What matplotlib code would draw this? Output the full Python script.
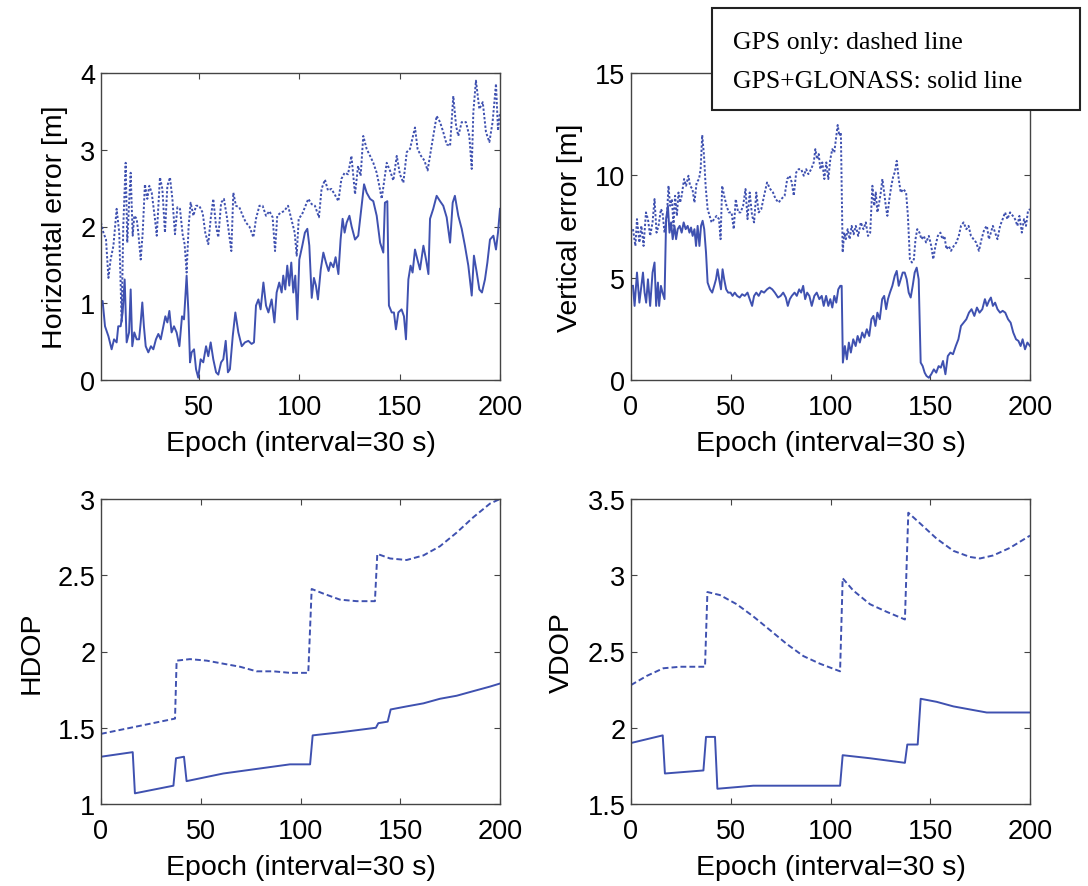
import matplotlib
matplotlib.use("Agg")
import matplotlib.pyplot as plt
from matplotlib.patches import Rectangle

BLUE = "#3f51b0"

# ---- horizontal error [m] ----
gps_h_ep = [
    1, 2.2, 3.5, 4.7, 5.8, 7.2, 8.8, 10.1, 11.3, 12.1,
    13.3, 14.1, 15.1, 15.8, 16.8, 17.6, 18.8, 19.6, 20.8, 21.8,
    22.9, 24.1, 25.1, 26.3, 27.9, 28.8, 30.4, 31.6, 32.9, 34.1,
    35.4, 36.6, 37.9, 39.1, 40.4, 41.7, 42.7, 43.7, 44.7, 45.7,
    47.1, 48.4, 50, 51.7, 53, 54.5, 55.7, 57, 58.4, 59.5,
    60.9, 62.3, 63.7, 65, 66, 67, 68.3, 70, 71.7, 73.3,
    75, 77, 78.3, 80, 81.6, 83.3, 85, 86.6, 87.8, 88.9,
    90.6, 92.3, 94.3, 95.9, 97.6, 98.6, 99.6, 101.3, 102.7, 104.4,
    106.1, 107.7, 109.7, 111, 112.7, 114.2, 115.9, 117.5, 119.4, 120.9,
    122.5, 124.2, 125.9, 127.7, 129.2, 130.5, 131.8, 133.5, 135.2, 136.8,
    138.5, 139.8, 141, 142.1, 143.5, 145.1, 146.8, 148.5, 150.1, 151.8,
    153.5, 155.1, 157.6, 158.9, 160.6, 162.3, 163.9, 165.9, 168.4, 170.1,
    171.7, 173.4, 175.1, 176.7, 178.1, 179.2, 180.9, 183, 184.7, 185.9,
    186.7, 188, 189.7, 191.4, 193, 194.7, 196.3, 198, 199, 200,
]
gps_h = [
    2.05, 1.92, 1.83, 1.33, 1.57, 1.75, 2.23, 1.92, 0.75, 2.0,
    2.83, 1.79, 2.36, 2.7, 1.88, 2.14, 2.1, 1.92, 1.57, 1.92,
    2.55, 2.36, 2.53, 2.44, 2.1, 1.88, 2.64, 2.49, 1.92, 2.53,
    2.64, 2.36, 1.9, 2.25, 2.23, 1.9, 1.77, 1.4, 2.0, 2.31,
    2.14, 2.27, 2.27, 2.18, 1.92, 1.77, 2.1, 2.36, 2.0, 1.86,
    2.31, 2.36, 2.14, 1.88, 1.68, 2.44, 2.27, 2.25, 2.14, 2.05,
    2.0, 1.86, 2.1, 2.27, 2.27, 2.14, 2.2, 2.12, 1.68, 2.14,
    2.18, 2.2, 2.27, 2.1, 1.92, 1.62, 2.1, 2.16, 2.25, 2.36,
    2.29, 2.27, 2.12, 2.49, 2.61, 2.47, 2.49, 2.42, 2.33, 2.62,
    2.7, 2.68, 2.92, 2.42, 2.79, 2.66, 3.18, 3.01, 2.92, 2.83,
    2.7, 2.53, 2.36, 2.57, 2.83, 2.73, 2.6, 2.92, 2.68, 2.57,
    2.97, 3.01, 3.29, 3.01, 2.92, 2.86, 2.73, 3.05, 3.44, 3.36,
    3.23, 3.07, 3.05, 3.7, 3.31, 3.18, 3.36, 3.36, 3.18, 2.75,
    3.49, 3.9, 3.53, 3.62, 3.23, 3.1, 3.36, 3.86, 3.25, 3.49,
]
glo_h_ep = [
    1, 1.8, 3, 4.7, 6.3, 7.5, 8.8, 9.6, 10.8, 11.8,
    12.8, 13.8, 15, 15.8, 16.6, 17.6, 18.8, 20, 20.8, 21.6,
    22.4, 23.3, 24.6, 25.9, 27.1, 28.4, 29.6, 30.8, 32.1, 33.1,
    34.1, 35.1, 36.2, 37.4, 38.7, 40.1, 41.4, 42.4, 43.7, 44.6,
    45.4, 46.2, 47.4, 48.4, 49.5, 50.7, 52, 53.4, 54.5, 55.7,
    57, 58.4, 59.5, 60.9, 62, 63.2, 64.3, 65.3, 66.7, 68,
    69.5, 71.2, 72.8, 74.5, 76.1, 77.3, 78.3, 79.5, 80.6, 82,
    83.3, 84.5, 86.1, 87.5, 88.6, 89.9, 91.1, 91.9, 92.9, 93.9,
    94.9, 95.9, 96.9, 97.9, 98.9, 99.9, 101.4, 102.7, 103.9, 104.9,
    106.1, 107.2, 108.2, 109.2, 110.6, 111.9, 113.2, 114.5, 115.5, 116.9,
    118, 119.4, 120.5, 121.5, 122.5, 123.5, 124.9, 126, 127.7, 129.3,
    131, 132.2, 133.5, 135.2, 136.8, 138.5, 140.2, 141.8, 142.6, 143.8,
    144.6, 146, 147.1, 148.1, 149.3, 150.9, 152.1, 153.1, 154.3, 155.4,
    156.4, 157.6, 158.8, 160.1, 161.8, 163.1, 164.3, 165.1, 166.7, 168.4,
    170.1, 171.7, 173.4, 175.1, 176.4, 177.5, 179.2, 180.9, 182.5, 184.2,
    185.9, 187, 188.4, 189.7, 191, 192.5, 193.7, 195, 196.7, 198,
    199, 200,
]
glo_h = [
    0.97, 1.03, 0.7, 0.57, 0.4, 0.53, 0.49, 0.7, 0.7, 0.88,
    1.31, 0.49, 0.62, 1.18, 0.44, 0.62, 0.53, 0.53, 0.75, 1.01,
    0.7, 0.44, 0.36, 0.44, 0.4, 0.53, 0.6, 0.53, 0.7, 0.83,
    0.75, 0.9, 0.62, 0.7, 0.62, 0.44, 0.83, 0.79, 1.36, 0.88,
    0.23, 0.36, 0.4, 0.14, 0.03, 0.27, 0.23, 0.44, 0.31, 0.49,
    0.27, 0.1, 0.07, 0.23, 0.27, 0.51, 0.1, 0.14, 0.57, 0.88,
    0.62, 0.44, 0.49, 0.51, 0.47, 0.49, 0.97, 1.05, 0.92, 1.27,
    0.97, 0.88, 1.05, 0.75, 1.14, 1.27, 1.14, 1.36, 1.18, 1.49,
    1.23, 1.53, 1.14, 1.36, 0.79, 1.57, 1.75, 1.92, 1.97, 1.75,
    1.07, 1.33, 1.23, 1.05, 1.44, 1.66, 1.53, 1.42, 1.53, 1.47,
    1.6, 1.38, 1.83, 2.1, 1.92, 2.05, 2.14, 2.0, 1.83, 1.88,
    2.27, 2.55, 2.44, 2.36, 2.33, 2.14, 1.79, 1.66, 2.31, 2.33,
    0.97, 0.88, 0.88, 0.66, 0.88, 0.92, 0.83, 0.53, 1.31, 1.49,
    1.4, 1.7, 1.57, 1.44, 1.75, 1.57, 1.38, 2.1, 2.23, 2.4,
    2.33, 2.27, 2.12, 1.79, 2.31, 2.4, 2.14, 1.97, 1.75, 1.49,
    1.1, 1.62, 1.4, 1.18, 1.14, 1.31, 1.53, 1.83, 1.88, 1.7,
    1.92, 2.23,
]

# ---- vertical error [m] ----
gps_v_ep = [
    1, 2.2, 3, 4.2, 5.2, 6.3, 7.5, 8.5, 9.6, 10.8,
    11.8, 12.8, 13.8, 15, 15.8, 16.8, 18, 18.8, 19.6, 20.5,
    21.3, 22.1, 23, 23.8, 24.6, 25.4, 26.6, 27.6, 28.8, 29.6,
    30.8, 31.8, 32.9, 34.1, 34.9, 35.7, 36.6, 37.4, 38.4, 39.4,
    40.4, 41.7, 42.9, 44.1, 44.9, 45.7, 46.7, 47.9, 49, 50.4,
    51.5, 52.5, 53.7, 54.9, 56.2, 57.4, 58.4, 59.5, 60.7, 61.7,
    62.8, 64, 65.3, 66.7, 68.2, 69.8, 71.2, 72.5, 74, 75.3,
    77, 78.3, 79.5, 80.6, 81.6, 82.8, 84, 85.3, 86.6, 87.8,
    88.9, 90.3, 91.6, 92.4, 93.3, 94.1, 94.9, 95.9, 96.9, 97.9,
    98.9, 99.9, 100.9, 101.9, 102.7, 103.6, 104.4, 105.2, 106.1, 106.9,
    107.7, 108.6, 109.6, 110.6, 111.6, 112.7, 113.9, 115.2, 116.5, 117.7,
    118.8, 119.9, 121, 121.9, 122.7, 123.5, 124.4, 125.2, 126, 126.9,
    127.7, 128.5, 129.5, 130.5, 131.5, 132.2, 133.2, 134.2, 135.2, 136.5,
    137.9, 138.8, 139.8, 140.8, 141.8, 142.6, 143.5, 144.6, 145.6, 146.8,
    147.9, 149.3, 150.5, 151.5, 152.6, 153.8, 155.1, 156.1, 157.1, 158.1,
    159.3, 160.4, 161.8, 163.1, 164.3, 165.4, 166.7, 168.1, 169.2, 170.4,
    171.7, 173, 174.4, 175.7, 177.1, 178.4, 179.4, 180.4, 181.4, 182.5,
    183.7, 185, 186.3, 187.5, 188.7, 190, 191.4, 192.5, 193.7, 194.7,
    195.9, 197, 198, 199, 200,
]
gps_v = [
    7.37, 6.55, 7.86, 6.72, 7.53, 6.55, 8.19, 7.86, 7.04, 7.7,
    8.84, 7.2, 7.53, 8.35, 8.19, 7.2, 8.02, 9.49, 8.51, 8.84,
    7.53, 9.0, 8.02, 9.16, 8.67, 9.0, 9.82, 9.49, 9.98, 9.49,
    9.33, 8.67, 9.65, 9.82, 10.3, 11.97, 10.96, 9.49, 8.35, 8.02,
    7.7, 7.86, 8.02, 7.86, 6.88, 9.49, 9.0, 8.51, 8.19, 8.19,
    7.37, 8.84, 8.19, 8.19, 8.51, 9.33, 7.86, 9.16, 8.02, 7.7,
    9.16, 8.19, 8.35, 9.0, 9.65, 9.33, 9.16, 8.84, 8.67, 8.84,
    9.0, 9.82, 9.98, 9.65, 9.0, 10.14, 10.3, 10.3, 9.98, 10.3,
    10.06, 10.3, 10.63, 11.28, 10.79, 11.04, 10.3, 10.63, 9.82, 10.63,
    9.82, 10.79, 11.28, 11.12, 11.77, 12.46, 11.94, 12.1, 6.23, 7.2,
    6.88, 7.37, 6.88, 7.53, 7.12, 7.53, 7.04, 7.7, 7.37, 7.7,
    7.04, 7.2, 9.49, 8.51, 9.16, 8.19, 8.67, 9.16, 9.82, 9.16,
    8.51, 8.02, 8.84, 9.49, 9.98, 10.14, 10.71, 9.82, 9.16, 9.33,
    9.16, 8.02, 5.9, 5.74, 5.9, 6.88, 7.37, 7.2, 6.88, 7.04,
    6.72, 7.04, 6.55, 5.9, 6.55, 7.04, 7.2, 6.88, 7.04, 6.39,
    6.55, 6.31, 6.55, 6.72, 7.04, 7.53, 7.7, 7.37, 7.53, 7.04,
    6.88, 6.72, 6.31, 6.88, 7.37, 7.53, 6.88, 7.2, 7.53, 7.2,
    6.88, 7.53, 7.86, 8.19, 7.86, 8.19, 8.02, 7.86, 7.53, 8.02,
    7.2, 7.86, 7.53, 8.27, 8.35,
]
glo_v_ep = [
    1, 1.8, 3, 4.2, 5.2, 6, 6.8, 7.6, 8.5, 9.6,
    10.8, 11.8, 12.6, 13.5, 14.1, 15, 15.8, 16.8, 17.6, 18.5,
    19.3, 20.1, 20.9, 21.8, 22.6, 23.4, 24.4, 25.4, 26.4, 27.4,
    28.4, 29.3, 30.1, 30.9, 31.8, 32.6, 33.4, 34.3, 35.1, 35.9,
    36.7, 37.6, 38.4, 39.6, 40.7, 41.7, 42.6, 43.4, 44.2, 45.1,
    45.9, 46.7, 47.7, 48.7, 49.9, 50.9, 52, 53.2, 54.5, 55.7,
    57, 58.4, 59.5, 60.7, 61.7, 62.8, 64, 65.3, 66.7, 68.2,
    69.5, 70.8, 72.1, 73.7, 75, 76.3, 77.6, 78.6, 79.6, 80.6,
    82, 83.1, 84.3, 85.3, 86.3, 87.3, 88.3, 89.4, 90.6, 91.9,
    93.1, 94.4, 95.6, 96.6, 97.8, 98.9, 99.9, 100.9, 101.9, 102.9,
    103.9, 104.9, 105.6, 106.2, 107.2, 108.2, 109.2, 110.2, 111.4, 112.6,
    113.6, 114.7, 115.9, 117, 118.2, 119.4, 120.5, 121.5, 122.5, 123.5,
    124.7, 125.9, 126.9, 127.9, 128.8, 129.8, 131, 132.2, 133.2, 134.2,
    135.2, 136.2, 137.2, 138.2, 139.2, 140.2, 141.2, 142.2, 143.2, 144.2,
    145.2, 146.2, 147.2, 148.1, 149.3, 150.5, 151.8, 153, 154.2, 155.3,
    156.4, 157.6, 158.8, 160.1, 161.4, 162.8, 164.1, 165.4, 166.7, 168.1,
    169.4, 170.7, 172.1, 173.4, 174.7, 176.1, 177.4, 178.4, 179.4, 180.4,
    181.4, 182.5, 183.7, 185, 186.3, 187.6, 189, 190.3, 191.6, 193,
    194.2, 195.3, 196.3, 197.5, 198.7, 200,
]
glo_v = [
    4.6, 3.62, 5.25, 3.78, 4.6, 5.25, 4.27, 3.78, 4.92, 3.62,
    5.25, 5.74, 3.62, 4.76, 3.62, 4.6, 4.27, 3.95, 7.86, 8.51,
    7.2, 7.7, 6.88, 7.53, 6.88, 7.37, 7.53, 7.2, 7.7, 7.37,
    7.53, 7.2, 7.45, 7.04, 7.37, 6.55, 7.53, 6.55, 7.53, 7.78,
    7.37, 6.23, 4.76, 4.43, 4.27, 4.6, 4.92, 5.41, 4.92, 4.43,
    5.41, 4.92, 4.43, 4.27, 4.27, 4.11, 4.27, 4.11, 4.03, 4.19,
    4.11, 4.27, 3.95, 3.62, 4.11, 4.27, 4.11, 4.35, 4.27, 4.43,
    4.52, 4.43, 4.27, 4.03, 4.11, 4.27, 4.03, 3.62, 3.95, 4.11,
    4.27, 4.11, 4.43, 4.27, 4.6, 3.95, 4.27, 4.11, 3.62, 4.11,
    4.27, 3.95, 4.11, 3.62, 4.11, 3.62, 3.95, 3.54, 4.11, 3.78,
    4.43, 4.6, 4.6, 0.85, 1.66, 1.01, 1.83, 1.34, 1.99, 1.66,
    2.15, 1.83, 2.32, 2.07, 2.48, 2.15, 2.97, 3.13, 2.64, 3.29,
    2.97, 3.95, 4.11, 3.46, 3.95, 4.27, 4.6, 5.09, 5.33, 4.6,
    4.92, 5.25, 5.25, 4.92, 4.27, 4.03, 4.6, 5.25, 5.49, 4.92,
    0.85, 0.68, 0.36, 0.2, 0.11, 0.28, 0.52, 0.36, 0.68, 0.6,
    0.93, 0.28, 1.17, 1.34, 1.26, 1.66, 1.99, 2.64, 2.8, 2.97,
    3.29, 3.46, 3.13, 3.54, 3.29, 3.46, 3.95, 3.62, 3.86, 4.03,
    3.62, 3.78, 3.46, 3.29, 3.38, 3.29, 2.97, 2.8, 2.32, 1.99,
    1.91, 1.66, 1.99, 1.5, 1.83, 1.66,
]

# ---- HDOP ----
gps_hdop_ep = [0, 37.1, 37.9, 44.6, 53, 61.3, 69.7, 78, 86.4, 94.7, 103.9, 105.6,
               111.4, 119.8, 128.2, 137.3, 138.5, 144.9, 153.2, 161.6, 169.9,
               178.3, 186.6, 195, 200]
gps_hdop = [1.46, 1.56, 1.94, 1.95, 1.94, 1.92, 1.9, 1.87, 1.87, 1.86, 1.86, 2.41,
            2.38, 2.34, 2.33, 2.33, 2.64, 2.61, 2.6, 2.63, 2.69,
            2.78, 2.88, 2.97, 3.0]
glo_hdop_ep = [0, 15.9, 17, 36.3, 37.6, 41.6, 42.9, 61.3, 78, 94.7, 104.8, 106.1,
               119.8, 137.8, 139, 143.7, 145.2, 153.2, 161.6, 169.9, 178.3,
               186.6, 195, 200]
glo_hdop = [1.31, 1.34, 1.07, 1.12, 1.3, 1.31, 1.15, 1.2, 1.23, 1.26, 1.26, 1.45,
            1.47, 1.5, 1.53, 1.54, 1.62, 1.64, 1.66, 1.69, 1.71,
            1.74, 1.77, 1.79]

# ---- VDOP ----
gps_vdop_ep = [0, 7.9, 16.2, 24.6, 37.1, 38.3, 44.6, 53, 61.3, 69.7, 78, 86.4, 94.7,
               104.8, 106.1, 111.4, 119.8, 128.2, 137.3, 139, 144.9, 153.2, 161.6,
               169.9, 174.9, 181.6, 190, 200]
gps_vdop = [2.28, 2.34, 2.39, 2.4, 2.4, 2.89, 2.87, 2.81, 2.73, 2.64, 2.55, 2.47, 2.42,
            2.37, 2.98, 2.9, 2.81, 2.76, 2.71, 3.41, 3.34, 3.24, 3.16,
            3.12, 3.11, 3.13, 3.18, 3.26]
glo_vdop_ep = [0, 15.9, 17, 36.3, 37.6, 42.1, 43.3, 61.3, 78, 94.7, 104.8, 106.1,
               119.8, 137.3, 138.5, 143.7, 145.2, 153.2, 161.6, 169.9, 178.3, 186.6, 200]
glo_vdop = [1.9, 1.95, 1.7, 1.72, 1.94, 1.94, 1.6, 1.62, 1.62, 1.62, 1.62, 1.82,
            1.8, 1.77, 1.89, 1.89, 2.19, 2.17, 2.14, 2.12, 2.1, 2.1, 2.1]

XLABEL = "Epoch (interval=30 s)"

plt.rcParams["font.family"] = ["Liberation Sans", "DejaVu Sans"]

W, H = 1088, 887
fig = plt.figure(figsize=(W / 100, H / 100), dpi=100)


def make_ax(left, top, right, bottom):
    ax = fig.add_axes([left / W, 1 - bottom / H, (right - left) / W, (bottom - top) / H])
    ax.tick_params(direction="in", top=True, right=True, labelsize=19.5, length=4,
                   width=0.8, color="#444444")
    ax.tick_params(axis="x", pad=10)
    ax.tick_params(axis="y", pad=4)
    for s in ax.spines.values():
        s.set_color("#444444")
        s.set_linewidth(1.0)
    ax.set_xlabel(XLABEL, fontsize=20.5, labelpad=7)
    return ax


dot = (0, (1.2, 1.0))
dash = (0, (3.0, 1.6))

ax1 = make_ax(101, 74, 500, 381)
ax1.plot(gps_h_ep, gps_h, color=BLUE, lw=1.4, linestyle=dot)
ax1.plot(glo_h_ep, glo_h, color=BLUE, lw=1.4)
ax1.set_xlim(1, 200)
ax1.set_ylim(0, 4)
ax1.set_xticks([50, 100, 150, 200])
ax1.set_yticks([0, 1, 2, 3, 4])
ax1.set_ylabel("Horizontal error [m]", fontsize=20.5, labelpad=9)

ax2 = make_ax(631, 74, 1030, 381)
ax2.plot(gps_v_ep, gps_v, color=BLUE, lw=1.4, linestyle=dot)
ax2.plot(glo_v_ep, glo_v, color=BLUE, lw=1.4)
ax2.set_xlim(0, 200)
ax2.set_ylim(0, 15)
ax2.set_xticks([0, 50, 100, 150, 200])
ax2.set_yticks([0, 5, 10, 15])
ax2.set_ylabel("Vertical error [m]", fontsize=20.5, labelpad=9)

ax3 = make_ax(101, 500, 500, 805)
ax3.plot(gps_hdop_ep, gps_hdop, color=BLUE, lw=1.4, linestyle=dash)
ax3.plot(glo_hdop_ep, glo_hdop, color=BLUE, lw=1.4)
ax3.set_xlim(0, 200)
ax3.set_ylim(1, 3)
ax3.set_xticks([0, 50, 100, 150, 200])
ax3.set_yticks([1, 1.5, 2, 2.5, 3])
ax3.set_yticklabels(["1", "1.5", "2", "2.5", "3"])
ax3.set_ylabel("HDOP", fontsize=20.5, labelpad=9)

ax4 = make_ax(631, 500, 1030, 805)
ax4.plot(gps_vdop_ep, gps_vdop, color=BLUE, lw=1.4, linestyle=dash)
ax4.plot(glo_vdop_ep, glo_vdop, color=BLUE, lw=1.4)
ax4.set_xlim(0, 200)
ax4.set_ylim(1.5, 3.5)
ax4.set_xticks([0, 50, 100, 150, 200])
ax4.set_yticks([1.5, 2, 2.5, 3, 3.5])
ax4.set_yticklabels(["1.5", "2", "2.5", "3", "3.5"])
ax4.set_ylabel("VDOP", fontsize=20.5, labelpad=9)

# annotation box in the top right corner
box = Rectangle((712 / W, 1 - 111 / H), (1080 - 712) / W, (111 - 9) / H,
                transform=fig.transFigure, facecolor="white", edgecolor="#222222",
                linewidth=1.5, zorder=10)
fig.add_artist(box)
fig.text(733 / W, 1 - 43 / H, "GPS only: dashed line", fontsize=18.5,
         family=["Liberation Serif", "DejaVu Serif"], va="center", zorder=11)
fig.text(733 / W, 1 - 82 / H, "GPS+GLONASS: solid line", fontsize=18.5,
         family=["Liberation Serif", "DejaVu Serif"], va="center", zorder=11)

fig.savefig("out.png", dpi=100)
